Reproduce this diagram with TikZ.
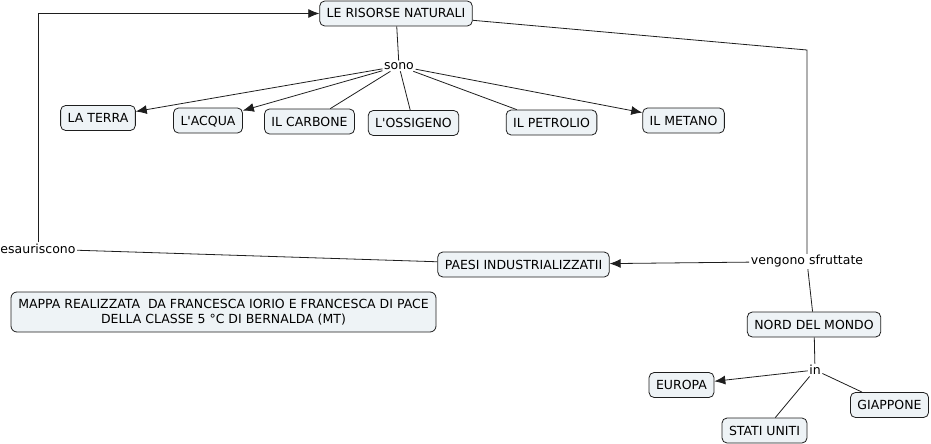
\documentclass[tikz,border=0pt]{standalone}
\usepackage{fontspec}
\setmainfont{DejaVu Sans}
\usetikzlibrary{arrows.meta}
\definecolor{fondobox}{RGB}{238,243,246}
\definecolor{tratto}{RGB}{30,30,30}

\begin{document}
\begin{tikzpicture}[x=1pt,y=-1pt,
  >={Latex[length=11pt,width=9pt]},
  concetto/.style={draw=tratto,line width=0.8pt,fill=fondobox,rounded corners=5pt,inner xsep=7pt,
    minimum height=25pt,text height=9pt,text depth=0pt,font=\fontsize{12.5}{14.5}\selectfont},
  legame/.style={fill=white,inner sep=1.5pt,font=\fontsize{12.5}{14.5}\selectfont},
  filo/.style={draw=tratto,line width=0.8pt}]
\useasboundingbox (0,0) rectangle (931,444);

 % i concetti
  \node[concetto] (risorse) at (396,13.5) {LE RISORSE NATURALI};
  \node[concetto] (terra) at (98,118) {LA TERRA};
  \node[concetto] (acqua) at (208,120.5) {L\textquotesingle ACQUA};
  \node[concetto] (carbone) at (309.5,121.5) {IL CARBONE};
  \node[concetto] (ossigeno) at (413.5,123) {L\textquotesingle OSSIGENO};
  \node[concetto] (petrolio) at (551.5,122.5) {IL PETROLIO};
  \node[concetto] (metano) at (683.5,120.5) {IL METANO};
  \node[concetto] (paesi) at (523.5,264.5) {PAESI INDUSTRIALIZZATII};
  \node[concetto] (nord) at (814,324.5) {NORD DEL MONDO};
  \node[concetto] (europa) at (681.5,385) {EUROPA};
  \node[concetto] (giappone) at (889.5,405) {GIAPPONE};
  \node[concetto] (stati) at (764.5,430.5) {STATI UNITI};
  \node[concetto,align=center,minimum width=425pt,minimum height=40pt,text height=,text depth=,
    rounded corners=6pt] (mappa) at (223.5,312)
    {MAPPA REALIZZATA~ DA FRANCESCA IORIO E FRANCESCA DI PACE\\DELLA CLASSE 5 °C DI BERNALDA (MT)};

 % le frasi legame
  \node[legame] (sono) at (399,66) {sono};
  \node[legame] (esaur) at (38,249) {esauriscono};
  \node[legame] (vengono) at (807,261.5) {vengono sfruttate};
  \node[legame] (in) at (815,370) {in};

 % i collegamenti
  \draw[filo] (risorse) -- (sono);
  \draw[filo,->] (sono) -- (terra);
  \draw[filo,->] (sono) -- (acqua);
  \draw[filo] (sono) -- (carbone);
  \draw[filo] (sono) -- (ossigeno);
  \draw[filo] (sono) -- (petrolio);
  \draw[filo,->] (sono) -- (metano);
  \coordinate (gomito) at (807,50);
  \draw[filo] (risorse) -- (gomito) -- (vengono);
  \draw[filo,->] (vengono) -- (paesi);
  \draw[filo] (vengono) -- (nord);
  \draw[filo] (paesi) -- (esaur);
  \draw[filo,->] (esaur) |- (risorse);
  \draw[filo] (nord) -- (in);
  \draw[filo,->] (in) -- (europa);
  \draw[filo] (in) -- (stati);
  \draw[filo] (in) -- (giappone);
\end{tikzpicture}
\end{document}
